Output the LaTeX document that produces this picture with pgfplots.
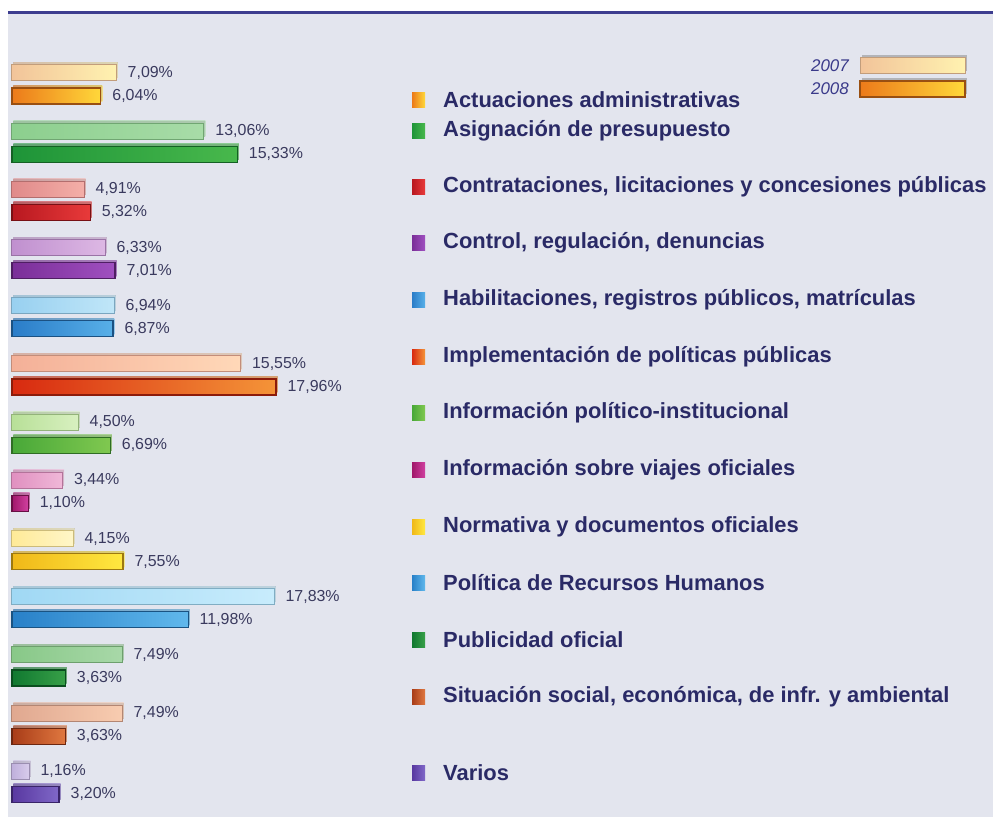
\documentclass[border=0pt]{standalone}
\usepackage{pgfplots}
\pgfplotsset{compat=1.18}
\usepackage{fontspec}
\setmainfont{Liberation Sans}
\definecolor{bgc}{HTML}{E3E5EE}
\definecolor{topl}{HTML}{3D3D8F}
\definecolor{labc}{HTML}{2A2A66}
\definecolor{valc}{HTML}{3A3A5E}
\definecolor{yrc}{HTML}{3A3A8A}
% 2007 left/right, 2008 left/right
\definecolor{La1}{HTML}{F2C49A}\definecolor{Ra1}{HTML}{FFF2B0}\definecolor{Lb1}{HTML}{EC7A1A}\definecolor{Rb1}{HTML}{FFD83A}
\definecolor{La2}{HTML}{8CCF8E}\definecolor{Ra2}{HTML}{A8DCA8}\definecolor{Lb2}{HTML}{1E9438}\definecolor{Rb2}{HTML}{48B84C}
\definecolor{La3}{HTML}{E08A8A}\definecolor{Ra3}{HTML}{F4AFA8}\definecolor{Lb3}{HTML}{B81820}\definecolor{Rb3}{HTML}{E83A3A}
\definecolor{La4}{HTML}{C090CF}\definecolor{Ra4}{HTML}{DDB8E4}\definecolor{Lb4}{HTML}{7A2E98}\definecolor{Rb4}{HTML}{A050C0}
\definecolor{La5}{HTML}{98D0F0}\definecolor{Ra5}{HTML}{C0E6F8}\definecolor{Lb5}{HTML}{2A7CC8}\definecolor{Rb5}{HTML}{58B0E8}
\definecolor{La6}{HTML}{F4B098}\definecolor{Ra6}{HTML}{FFD8B8}\definecolor{Lb6}{HTML}{D82A10}\definecolor{Rb6}{HTML}{F49438}
\definecolor{La7}{HTML}{B8E098}\definecolor{Ra7}{HTML}{D8F0C0}\definecolor{Lb7}{HTML}{48A838}\definecolor{Rb7}{HTML}{80C850}
\definecolor{La8}{HTML}{E090C0}\definecolor{Ra8}{HTML}{F0B8D8}\definecolor{Lb8}{HTML}{A0186A}\definecolor{Rb8}{HTML}{D040A0}
\definecolor{La9}{HTML}{FFEA98}\definecolor{Ra9}{HTML}{FFF6C8}\definecolor{Lb9}{HTML}{F0B818}\definecolor{Rb9}{HTML}{FFE840}
\definecolor{La10}{HTML}{A0D8F4}\definecolor{Ra10}{HTML}{C8ECFC}\definecolor{Lb10}{HTML}{2880C8}\definecolor{Rb10}{HTML}{60B8EC}
\definecolor{La11}{HTML}{88C888}\definecolor{Ra11}{HTML}{A8D8A8}\definecolor{Lb11}{HTML}{107830}\definecolor{Rb11}{HTML}{38A048}
\definecolor{La12}{HTML}{E0A890}\definecolor{Ra12}{HTML}{F8CCB0}\definecolor{Lb12}{HTML}{A83C18}\definecolor{Rb12}{HTML}{E07840}
\definecolor{La13}{HTML}{C0B0DC}\definecolor{Ra13}{HTML}{D8CCEC}\definecolor{Lb13}{HTML}{5838A0}\definecolor{Rb13}{HTML}{8068C8}
\tikzset{barshadow/.style={preaction={fill=black!45, fill opacity=0.55, draw=none, transform canvas={xshift=1.5bp,yshift=2.5bp}}}}
% #1 position (13 = top), #2 value 2007, #3 value 2008, #4 colour index
\newcommand\catbars[4]{%
\addplot[xbar, bar shift=11.5bp, barshadow, left color=La#4, right color=Ra#4, draw=La#4!80!black, line width=1bp,
  every node near coord/.append style={yshift=11.5bp}] coordinates {(#2,#1)};
\addplot[xbar, bar shift=-11.5bp, barshadow, left color=Lb#4, right color=Rb#4, draw=Lb#4!65!black, line width=1.2bp,
  every node near coord/.append style={yshift=-11.5bp}] coordinates {(#3,#1)};
}
\newcommand\catlabel[3]{% #1 y px, #2 colour index, #3 text
\shade[left color=Lb#2, right color=Rb#2] (412,#1-7.5) rectangle (425,#1+7.5);
\node[anchor=west, inner sep=0pt, text=labc, font=\fontsize{22}{22}\selectfont\bfseries] at (443,#1) {#3};
}
\begin{document}
\begin{tikzpicture}[x=1bp,y=1bp]
\begin{scope}[shift={(0pt,831bp)}, y=-1bp]
\fill[bgc] (8,14) rectangle (993,817);
\draw[topl, line width=3bp] (8,12.5) -- (993,12.5);
\end{scope}
\begin{axis}[at={(0pt,0pt)}, anchor=south west, scale only axis,
  width=993bp, height=831bp,
  xmin=-0.8163, xmax=66.735, ymin=0.173, ymax=14.452,
  hide axis, clip=false, bar width=16bp,
  /pgf/number format/assume math mode=true,
  nodes near coords={\pgfmathprintnumber[fixed,fixed zerofill,precision=2,use comma]{\pgfplotspointmeta}\%},
  point meta=x,
  every node near coord/.append style={font=\fontsize{16}{16}\selectfont, text=valc, anchor=west, inner sep=0pt, xshift=11bp}]
\catbars{13}{7.09}{6.04}{1}
\catbars{12}{13.06}{15.33}{2}
\catbars{11}{4.91}{5.32}{3}
\catbars{10}{6.33}{7.01}{4}
\catbars{9}{6.94}{6.87}{5}
\catbars{8}{15.55}{17.96}{6}
\catbars{7}{4.50}{6.69}{7}
\catbars{6}{3.44}{1.10}{8}
\catbars{5}{4.15}{7.55}{9}
\catbars{4}{17.83}{11.98}{10}
\catbars{3}{7.49}{3.63}{11}
\catbars{2}{7.49}{3.63}{12}
\catbars{1}{1.16}{3.20}{13}
\end{axis}
\begin{scope}[shift={(0pt,831bp)}, y=-1bp]
\catlabel{100}{1}{Actuaciones administrativas}
\catlabel{131}{2}{Asignación de presupuesto}
\catlabel{187}{3}{Contrataciones, licitaciones y concesiones públicas}
\catlabel{243}{4}{Control, regulación, denuncias}
\catlabel{300}{5}{Habilitaciones, registros públicos, matrículas}
\catlabel{357}{6}{Implementación de políticas públicas}
\catlabel{413}{7}{Información político-institucional}
\catlabel{470}{8}{Información sobre viajes oficiales}
\catlabel{527}{9}{Normativa y documentos oficiales}
\catlabel{583}{10}{Política de Recursos Humanos}
\catlabel{640}{11}{Publicidad oficial}
\catlabel{697}{12}{Situación social, económica, de infr. y ambiental}
\catlabel{773}{13}{Varios}
\node[anchor=east, inner sep=0pt, text=yrc, font=\fontsize{17}{17}\selectfont\itshape] at (849,66) {2007};
\node[anchor=east, inner sep=0pt, text=yrc, font=\fontsize{17}{17}\selectfont\itshape] at (849,89) {2008};
\fill[black!45, opacity=0.55] (861.5,55.5) rectangle (966.5,71.5);
\shade[left color=La1, right color=Ra1, draw=La1!80!black, line width=1bp] (860,58) rectangle (965,74);
\fill[black!45, opacity=0.55] (861.5,78.5) rectangle (966.5,94.5);
\shade[left color=Lb1, right color=Rb1, draw=Lb1!65!black, line width=1.2bp] (860,81) rectangle (965,97);
\end{scope}
\pgfresetboundingbox
\path[use as bounding box] (0,0) rectangle (993,831);
\end{tikzpicture}
\end{document}
